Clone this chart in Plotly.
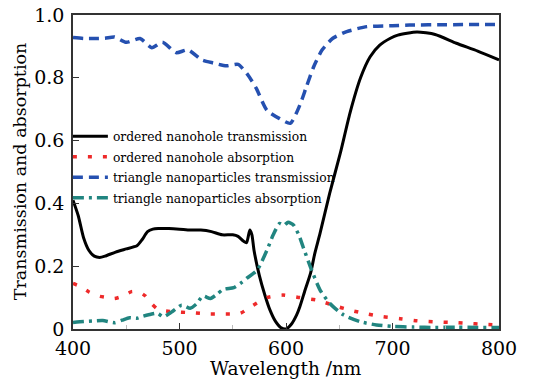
import plotly.graph_objects as go

# ordered nanohole transmission
x_oht = [400, 405, 410, 415, 420, 425, 430, 440, 450, 460, 465, 470, 475, 480, 490, 500, 510, 520, 530, 540, 550, 555, 560, 563, 566, 568,
         570, 575, 580, 585, 590, 595, 600, 605, 610, 613, 618, 623, 627, 632, 641, 651, 660, 670, 679, 688, 698, 705, 723, 740, 760, 780, 800]
y_oht = [0.41, 0.36, 0.29, 0.25, 0.232, 0.228, 0.232, 0.245, 0.255, 0.265, 0.285, 0.31, 0.318, 0.32, 0.32, 0.318, 0.315, 0.315, 0.31, 0.30, 0.30, 0.295, 0.28, 0.275, 0.315, 0.30,
         0.25, 0.17, 0.11, 0.06, 0.025, 0.005, 0.0, 0.015, 0.045, 0.071, 0.125, 0.177, 0.24, 0.305, 0.432, 0.56, 0.687, 0.80, 0.867, 0.904, 0.926, 0.936, 0.946, 0.938, 0.91, 0.885, 0.857]

# ordered nanohole absorption
x_oha = [400, 407, 415, 424, 432, 439, 447, 455, 462, 468, 474, 480, 494, 511, 527, 543, 557, 568, 582, 597, 613, 629, 644, 660, 676, 691, 707, 723, 738, 754, 770, 785, 800]
y_oha = [0.145, 0.135, 0.118, 0.105, 0.10, 0.097, 0.105, 0.119, 0.118, 0.105, 0.08, 0.062, 0.055, 0.052, 0.048, 0.048, 0.05, 0.073, 0.10, 0.108, 0.10, 0.092, 0.076, 0.06, 0.048, 0.039, 0.033, 0.026, 0.023, 0.021, 0.018, 0.015, 0.013]

# triangle nanoparticles transmission
x_tnt = [400, 410, 420, 430, 439, 450, 463, 474, 484, 497, 508, 521, 532, 544, 555, 564, 572, 582, 594, 604, 613, 619, 626, 634, 644, 657, 676, 700, 716, 750, 800]
y_tnt = [0.928, 0.925, 0.925, 0.926, 0.93, 0.913, 0.925, 0.896, 0.913, 0.88, 0.889, 0.857, 0.847, 0.838, 0.843, 0.81, 0.767, 0.697, 0.67, 0.655, 0.713, 0.77, 0.835, 0.889, 0.926, 0.947, 0.963, 0.966, 0.968, 0.969, 0.970]

# triangle nanoparticles absorption
x_tna = [400, 410, 420, 428, 439, 446, 453, 460, 466, 472, 479, 485, 493, 502, 510, 516, 522, 529, 535, 541, 551, 557, 563, 573, 582, 588, 594, 598, 602, 607, 612, 616, 624, 632, 641, 654, 670, 685, 700, 720, 740, 760, 780, 800]
y_tna = [0.021, 0.024, 0.026, 0.027, 0.02, 0.028, 0.036, 0.034, 0.041, 0.046, 0.05, 0.039, 0.055, 0.076, 0.066, 0.08, 0.105, 0.097, 0.11, 0.126, 0.132, 0.145, 0.161, 0.188, 0.25, 0.30, 0.336, 0.33, 0.34, 0.331, 0.30, 0.262, 0.188, 0.124, 0.082, 0.045, 0.023, 0.013, 0.008, 0.006, 0.005, 0.006, 0.005, 0.005]

names = ["ordered nanohole transmission", "ordered nanohole absorption",
         "triangle nanoparticles transmission", "triangle nanoparticles absorption"]
x_title = "Wavelength /nm"
y_title = "Transmission and absorption"

fig = go.Figure()
fig.add_trace(go.Scatter(x=x_oht, y=y_oht, mode="lines", name=names[0], legendgroup="a",
                         line=dict(color="black", width=3, shape="spline", smoothing=0.6)))
fig.add_trace(go.Scatter(x=x_oha, y=y_oha, mode="lines", name=names[1], legendgroup="b",
                         line=dict(color="#ee2a2a", width=3.5, dash="4px,11px", shape="spline", smoothing=0.6)))
fig.add_trace(go.Scatter(x=x_tnt, y=y_tnt, mode="lines", name=names[2], legendgroup="c",
                         line=dict(color="#2550b0", width=3.5, dash="10px,6px", shape="spline", smoothing=0.6)))
fig.add_trace(go.Scatter(x=x_tna, y=y_tna, mode="lines", name=names[3], legendgroup="d",
                         line=dict(color="#218580", width=3.5, dash="11px,5px,3px,5px", shape="spline", smoothing=0.6)))

font_family = "DejaVu Serif, Liberation Serif, serif"
fig.update_layout(
    width=533, height=383,
    margin=dict(l=73, r=34, t=15, b=54, autoexpand=False),
    paper_bgcolor="white", plot_bgcolor="white",
    font=dict(family=font_family, color="black", size=18),
    showlegend=True,
    legend=dict(x=-0.012, y=0.66, xanchor="left", yanchor="top",
                bgcolor="rgba(0,0,0,0)", font=dict(size=12.3, family=font_family),
                tracegroupgap=1.5, itemwidth=35),
    xaxis=dict(range=[400, 800], tickvals=[400, 500, 600, 700, 800],
               ticks="inside", ticklen=6, tickwidth=1.2, tickcolor="#333",
               showline=True, linecolor="#333", linewidth=1.5, mirror=True,
               showgrid=False, zeroline=False, ticklabelstandoff=1, automargin=False,
               ticklabeloverflow="allow",
               minor=dict(ticks="inside", ticklen=4, tickcolor="#bbb", dtick=50),
               tickfont=dict(size=19)),
    yaxis=dict(range=[0, 1.0], tickvals=[0, 0.2, 0.4, 0.6, 0.8, 1.0],
               ticktext=["0", "0.2", "0.4", "0.6", "0.8", "1.0"],
               ticks="inside", ticklen=6, tickwidth=1.2, tickcolor="#333",
               showline=True, linecolor="#333", linewidth=1.5, mirror=True,
               showgrid=False, zeroline=False, ticklabelstandoff=3, automargin=False,
               ticklabeloverflow="allow",
               tickfont=dict(size=19)),
    annotations=[
        dict(text=x_title, xref="paper", yref="paper", x=0.5, y=-0.127,
             xanchor="center", yanchor="middle", showarrow=False, font=dict(size=18.5)),
        dict(text=y_title, xref="paper", yref="paper", x=-0.124, y=0.5, textangle=-90,
             xanchor="center", yanchor="middle", showarrow=False, font=dict(size=17.5)),
    ],
)

fig.write_html("out.html", config={"displayModeBar": False},
               post_script="document.body.style.margin='0';document.body.style.overflow='hidden';")
